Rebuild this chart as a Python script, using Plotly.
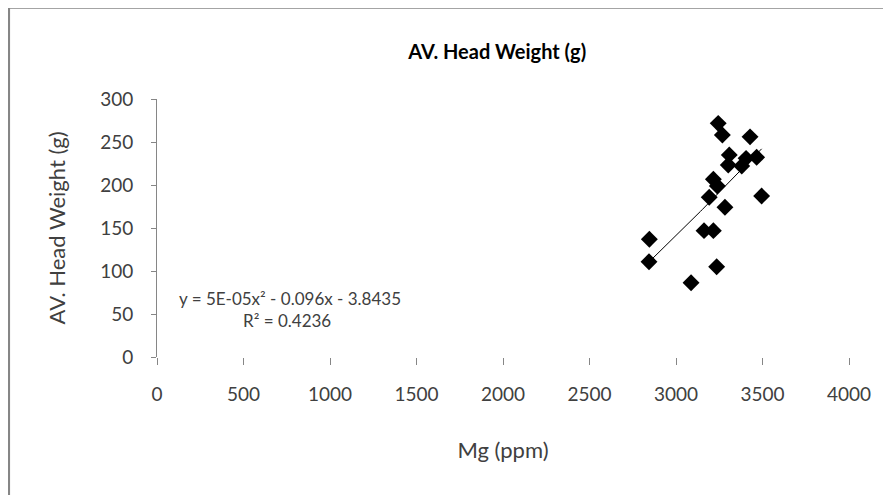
import numpy as np
import plotly.graph_objects as go

# Mg (ppm) vs average head weight (g)
mg_ppm = [3244, 3268, 3428, 3308, 3302, 3405, 3380, 3466, 3216, 3239,
          3192, 3495, 3283, 3162, 3216, 2846, 2844, 3235, 3087]
head_weight = [271.7, 258.1, 256.0, 235.0, 223.3, 231.0, 222.1, 232.2, 206.6, 198.8,
               185.7, 187.2, 174.1, 146.9, 146.9, 136.9, 110.8, 105.0, 86.4]

x_ticks = [0, 500, 1000, 1500, 2000, 2500, 3000, 3500, 4000]
y_ticks = [0, 50, 100, 150, 200, 250, 300]

equation_text = "y = 5E-05x² - 0.096x - 3.8435"
r2_text = "R² = 0.4236"

# second order polynomial trendline (as Excel does)
coef = np.polyfit(mg_ppm, head_weight, 2)
trend_x = np.linspace(min(mg_ppm), max(mg_ppm), 60)
trend_y = np.polyval(coef, trend_x)

font_name = "Lato"
tick_color = "#404040"
axis_gray = "#868686"

fig = go.Figure()

fig.add_trace(go.Scatter(
    x=mg_ppm, y=head_weight, mode="markers",
    marker=dict(symbol="diamond", size=13, color="black"),
    showlegend=False,
))

fig.add_trace(go.Scatter(
    x=trend_x, y=trend_y, mode="lines",
    line=dict(color="black", width=1),
    showlegend=False,
))

# page body has an 8px margin, so margins are shifted by 8
fig.update_layout(
    width=891, height=495,
    paper_bgcolor="white", plot_bgcolor="white",
    margin=dict(l=149, r=50, t=91, b=146),
    font=dict(family=font_name, color=tick_color),
    title=dict(
        text="<b>AV. Head Weight (g)</b>",
        x=0.549, xanchor="center", y=0.911, yanchor="middle",
        font=dict(family=font_name, size=20, color="black"),
    ),
    xaxis=dict(
        range=[0, 4000], tickvals=x_ticks, showgrid=False, zeroline=False,
        showline=False, ticks="outside", ticklen=7, tickcolor=axis_gray,
        tickfont=dict(size=19, color=tick_color), ticklabelstandoff=13,
        title=dict(text="Mg (ppm)", font=dict(size=22, color=tick_color), standoff=38),
    ),
    yaxis=dict(
        range=[0, 300], tickvals=y_ticks, showgrid=False, zeroline=False,
        showline=True, linecolor=axis_gray, linewidth=1,
        ticks="outside", ticklen=5, tickcolor=axis_gray,
        tickfont=dict(size=19, color=tick_color), ticklabelstandoff=14,
        title=dict(text="AV. Head Weight (g)", font=dict(size=22, color=tick_color), standoff=28),
    ),
)

fig.add_annotation(x=769, y=68.6, xref="x", yref="y", text=equation_text,
                   showarrow=False, font=dict(size=17, color=tick_color))
fig.add_annotation(x=751, y=41.9, xref="x", yref="y", text=r2_text,
                   showarrow=False, font=dict(size=17, color=tick_color))

# outer chart frame (runs off the right and bottom edges in the reference)
fig.add_shape(type="rect", xref="paper", yref="paper",
              x0=-0.2145, x1=1.2, y0=-0.6, y1=1.356,
              line=dict(color=axis_gray, width=3), layer="below")

fig.write_html("out.html")
